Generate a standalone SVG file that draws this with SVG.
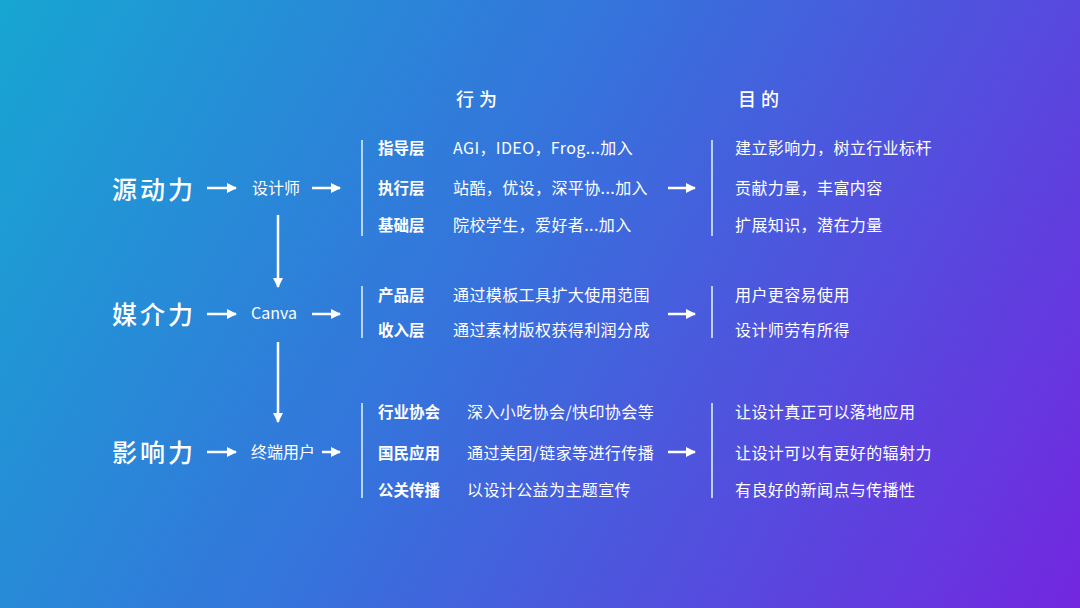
<svg xmlns="http://www.w3.org/2000/svg" width="1080" height="608" viewBox="0 0 1080 608">
<defs>
<linearGradient id="bg" x1="0" y1="0" x2="1080" y2="608" gradientUnits="userSpaceOnUse">
<stop offset="0" stop-color="#17a6d2"/>
<stop offset="0.45" stop-color="#3672dc"/>
<stop offset="1" stop-color="#7327e0"/>
</linearGradient>
<marker id="ah" viewBox="0 0 10 10" refX="9" refY="5" markerWidth="10" markerHeight="10" markerUnits="userSpaceOnUse" orient="auto">
<path d="M0,0 L10,5 L0,10 Z" fill="#ffffff"/>
</marker>
<style>
text{font-family:"Noto Sans CJK SC","Noto Sans",sans-serif;fill:#ffffff}
.big{font-size:25px;letter-spacing:3px;font-weight:500}
.hd{font-size:18px;letter-spacing:5px;font-weight:500}
.mid{font-size:16px}
.lb{font-size:15.5px;font-weight:700}
.tx{font-size:16px;letter-spacing:0.4px}
.ar{stroke:#ffffff;stroke-width:2.5;fill:none;marker-end:url(#ah)}
.bar{stroke:#cfe6ff;stroke-width:2;opacity:0.85}
</style>
</defs>
<rect width="1080" height="608" fill="url(#bg)"/>

<g id="headers">
<text class="hd" x="456" y="106">行为</text>
<text class="hd" x="738" y="106">目的</text>
</g>

<g id="connectors">
<path class="ar" d="M207,188 H236"/>
<path class="ar" d="M312,188 H340"/>
<path class="ar" d="M668,188 H695"/>
<path class="ar" d="M207,314 H236"/>
<path class="ar" d="M312,314 H340"/>
<path class="ar" d="M668,314 H695"/>
<path class="ar" d="M207,452 H236"/>
<path class="ar" d="M322,452 H340"/>
<path class="ar" d="M668,452 H695"/>
<path class="ar" d="M278,215 V287"/>
<path class="ar" d="M278,342 V422"/>
</g>

<g id="bars">
<line class="bar" x1="362" y1="140" x2="362" y2="236"/>
<line class="bar" x1="712" y1="140" x2="712" y2="236"/>
<line class="bar" x1="362" y1="286" x2="362" y2="338"/>
<line class="bar" x1="712" y1="286" x2="712" y2="338"/>
<line class="bar" x1="362" y1="403" x2="362" y2="498"/>
<line class="bar" x1="712" y1="403" x2="712" y2="498"/>
</g>

<g id="node-yuandongli">
<text class="big" x="112" y="199">源动力</text>
</g>
<g id="node-designer">
<text class="mid" x="252" y="194">设计师</text>
</g>
<g id="node-meijieli">
<text class="big" x="112" y="324">媒介力</text>
</g>
<g id="node-canva">
<text class="mid" x="251" y="319">Canva</text>
</g>
<g id="node-yingxiangli">
<text class="big" x="112" y="462">影响力</text>
</g>
<g id="node-users">
<text class="mid" x="251" y="458">终端用户</text>
</g>

<g id="node-behavior-1">
<text class="lb" x="378" y="154">指导层</text>
<text class="tx" x="453" y="154">AGI，IDEO，Frog...加入</text>
<text class="lb" x="378" y="194">执行层</text>
<text class="tx" x="453" y="194">站酷，优设，深平协...加入</text>
<text class="lb" x="378" y="231">基础层</text>
<text class="tx" x="453" y="231">院校学生，爱好者...加入</text>
</g>
<g id="node-purpose-1">
<text class="tx" x="735" y="154">建立影响力，树立行业标杆</text>
<text class="tx" x="735" y="194">贡献力量，丰富内容</text>
<text class="tx" x="735" y="231">扩展知识，潜在力量</text>
</g>

<g id="node-behavior-2">
<text class="lb" x="378" y="301">产品层</text>
<text class="tx" x="453" y="301">通过模板工具扩大使用范围</text>
<text class="lb" x="378" y="336">收入层</text>
<text class="tx" x="453" y="336">通过素材版权获得利润分成</text>
</g>
<g id="node-purpose-2">
<text class="tx" x="735" y="301">用户更容易使用</text>
<text class="tx" x="735" y="336">设计师劳有所得</text>
</g>

<g id="node-behavior-3">
<text class="lb" x="378" y="418">行业协会</text>
<text class="tx" x="467" y="418">深入小吃协会/快印协会等</text>
<text class="lb" x="378" y="459">国民应用</text>
<text class="tx" x="467" y="459">通过美团/链家等进行传播</text>
<text class="lb" x="378" y="496">公关传播</text>
<text class="tx" x="467" y="496">以设计公益为主题宣传</text>
</g>
<g id="node-purpose-3">
<text class="tx" x="735" y="418">让设计真正可以落地应用</text>
<text class="tx" x="735" y="459">让设计可以有更好的辐射力</text>
<text class="tx" x="735" y="496">有良好的新闻点与传播性</text>
</g>
</svg>
